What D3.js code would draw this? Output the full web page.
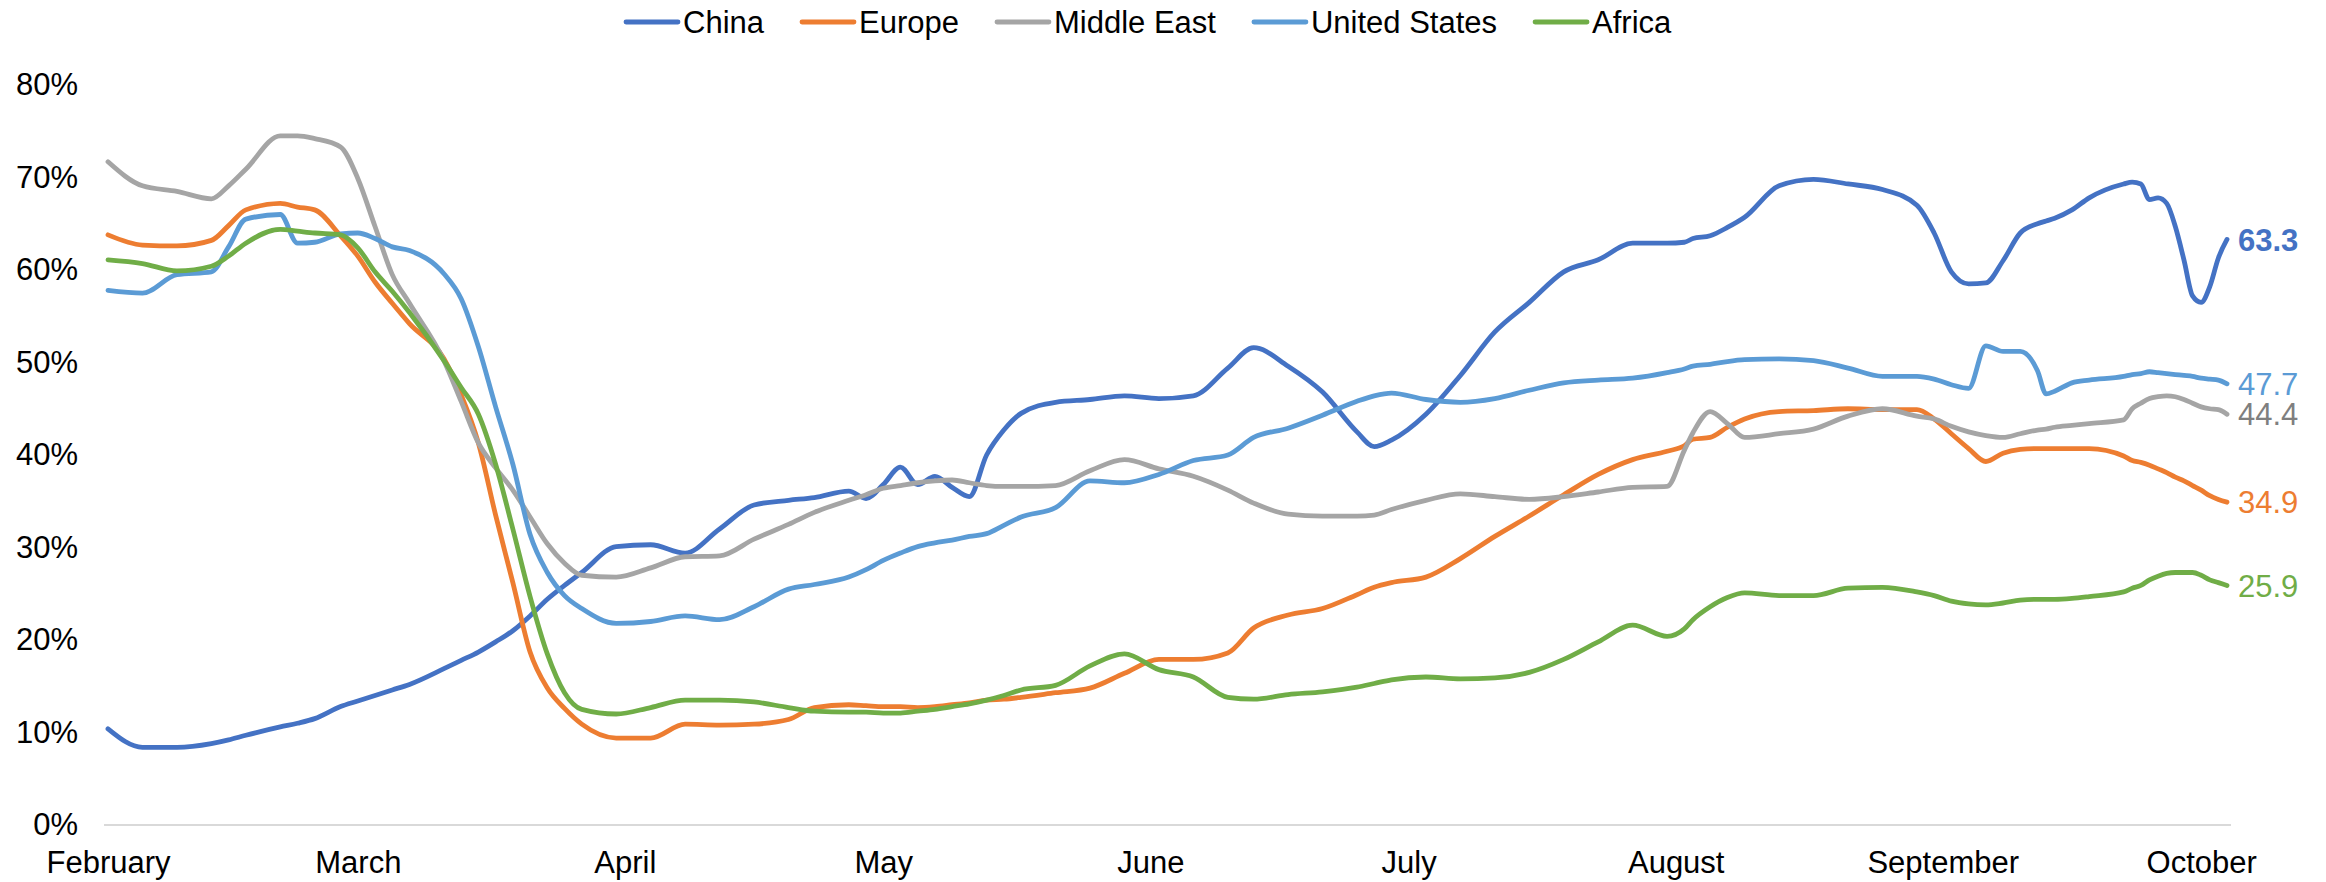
<!DOCTYPE html>
<html>
<head>
<meta charset="utf-8">
<script src="https://cdn.jsdelivr.net/npm/d3@7"></script>
<style>
  html, body { margin: 0; padding: 0; background: #fff; }
  svg text { font-family: "Liberation Sans", Arial, sans-serif; }
</style>
</head>
<body>
<div id="chart"></div>
<script>
// days counted from 1 Feb 2020
var dayOffsets = [0,4,8,12,14,16,20,22,24,27,
  29,31,33,35,39,41,43,45,47,49,
  51,53,55,59,63,67,71,75,79,82,
  86,88,90,92,94,96,98,100,102,104,
  106,110,114,118,122,126,130,133,137,141,
  145,147,149,153,157,161,165,169,173,177,
  181,183,184,186,188,190,194,198,202,206,
  210,212,214,216,218,220,222,224,225,226,
  228,230,234,235,236,237,238,239,240,241,
  242,243,244,245,246];

var china = [10.4,8.4,8.4,8.8,9.2,9.7,10.6,11.0,11.5,12.8,
  13.4,14.0,14.6,15.2,16.9,17.8,18.7,19.8,21.0,22.6,
  24.4,25.9,27.3,30.1,30.3,29.4,32.0,34.6,35.1,35.4,
  36.1,35.3,36.8,38.7,36.8,37.7,36.5,35.5,40.0,42.7,
  44.5,45.7,46.0,46.4,46.1,46.4,49.4,51.6,49.6,46.8,
  42.5,40.9,41.6,44.4,48.6,53.3,56.5,59.8,61.1,62.9,
  62.9,63.0,63.4,63.7,64.6,65.7,69.1,69.8,69.3,68.7,
  67.0,64.0,59.8,58.5,58.6,61.0,64.0,65.0,65.3,65.6,
  66.5,67.8,69.3,69.5,69.3,67.6,67.8,67.2,64.7,61.1,
  57.2,56.5,58.2,61.3,63.3];

var europe = [63.8,62.7,62.6,63.2,64.8,66.5,67.2,66.8,66.5,63.7,
  61.5,58.7,56.4,54.2,50.4,46.5,41.3,33.5,26.2,18.7,
  14.8,12.6,10.9,9.4,9.4,10.9,10.8,10.9,11.4,12.7,
  13.0,12.9,12.8,12.8,12.7,12.8,13.0,13.2,13.5,13.6,
  13.8,14.3,14.8,16.4,17.9,17.9,18.6,21.3,22.7,23.4,
  24.9,25.7,26.2,26.8,28.8,31.2,33.4,35.7,37.9,39.5,
  40.4,41.0,41.7,41.9,43.0,43.9,44.7,44.8,45.0,44.9,
  44.9,43.9,42.3,40.7,39.3,40.2,40.6,40.7,40.7,40.7,
  40.7,40.7,39.9,39.4,39.2,38.9,38.5,38.1,37.6,37.2,
  36.7,36.2,35.6,35.2,34.9];

var middleEast = [71.7,69.1,68.5,67.7,69.1,70.9,74.5,74.5,74.2,73.3,
  69.9,64.7,59.5,56.4,50.2,45.8,41.3,38.6,36.2,33.3,
  30.4,28.3,27.0,26.8,27.8,29.0,29.1,30.9,32.5,33.8,
  35.1,35.7,36.4,36.7,37.0,37.2,37.3,37.0,36.7,36.6,
  36.6,36.7,38.3,39.5,38.5,37.7,36.2,34.8,33.6,33.4,
  33.4,33.5,34.1,35.1,35.8,35.5,35.2,35.5,36.0,36.5,
  36.6,40.5,42.4,44.7,43.4,41.9,42.3,42.8,44.2,45.0,
  44.2,43.9,43.1,42.5,42.1,41.9,42.3,42.7,42.8,43.0,
  43.2,43.4,43.8,45.0,45.6,46.1,46.3,46.4,46.3,46.0,
  45.6,45.2,45.0,44.9,44.4];

var unitedStates = [57.8,57.5,59.5,59.8,62.5,65.5,66.0,62.9,63.0,63.9,
  64.0,63.4,62.5,62.1,59.6,56.9,51.7,45.2,39.0,31.4,
  27.3,24.8,23.4,21.8,22.0,22.6,22.2,23.6,25.5,26.0,
  26.8,27.6,28.6,29.4,30.1,30.5,30.8,31.2,31.5,32.4,
  33.3,34.3,37.2,37.0,37.9,39.4,40.0,41.9,42.9,44.3,
  45.8,46.4,46.7,46.0,45.7,46.1,47.0,47.8,48.1,48.3,
  48.9,49.3,49.6,49.8,50.1,50.3,50.4,50.2,49.4,48.5,
  48.5,48.2,47.6,47.2,51.8,51.2,51.2,49.1,46.6,46.9,
  47.8,48.1,48.5,48.7,48.8,49.0,48.9,48.8,48.7,48.6,
  48.5,48.3,48.2,48.1,47.7];

var africa = [61.1,60.7,59.9,60.4,61.5,62.9,64.4,64.2,64.0,63.8,
  62.4,59.8,57.7,55.4,50.2,47.3,44.4,39.0,32.0,24.7,
  18.5,14.3,12.5,12.0,12.7,13.5,13.5,13.3,12.7,12.3,
  12.2,12.2,12.1,12.1,12.3,12.5,12.8,13.1,13.5,14.0,
  14.6,15.1,17.2,18.5,16.8,16.0,13.8,13.6,14.1,14.4,
  14.9,15.3,15.7,16.0,15.8,15.9,16.5,17.9,19.8,21.6,
  20.4,21.2,22.2,23.6,24.6,25.1,24.8,24.8,25.6,25.7,
  25.2,24.8,24.2,23.9,23.8,24.0,24.3,24.4,24.4,24.4,
  24.5,24.7,25.2,25.6,25.9,26.5,26.9,27.2,27.3,27.3,
  27.3,27.0,26.5,26.2,25.9];

var seriesNames = ['China', 'Europe', 'Middle East', 'United States', 'Africa'];
var seriesValues = [china, europe, middleEast, unitedStates, africa];
var seriesColors = ['#4472C4', '#ED7D31', '#A5A5A5', '#5B9BD5', '#70AD47'];
var labelColors = ['#4472C4', '#ED7D31', '#7F7F7F', '#5B9BD5', '#70AD47'];

var monthNames = ['February', 'March', 'April', 'May', 'June', 'July', 'August', 'September', 'October'];
var yTicks = [0, 10, 20, 30, 40, 50, 60, 70, 80];

var width = 2326, height = 882;
var FONT = 31;
var STROKE = 4.8;

function toDate(offset) { return new Date(2020, 1, 1 + offset); }

var dates = dayOffsets.map(toDate);

var svg = d3.select('#chart').append('svg')
            .attr('width', width).attr('height', height);

svg.append('rect').attr('width', width).attr('height', height).attr('fill', '#fff');

var x = d3.scaleTime()
          .domain([toDate(0), toDate(246)])
          .range([108, 2227]);

var y = d3.scaleLinear()
          .domain([0, 80])
          .range([825, 85]);

// y axis: labels only, no gridlines
var yAxis = svg.append('g')
               .attr('transform', 'translate(78,0)')
               .call(d3.axisLeft(y).tickValues(yTicks).tickSize(0).tickPadding(0)
                       .tickFormat(function(d) { return d + '%'; }));
yAxis.select('.domain').remove();
yAxis.selectAll('text')
     .attr('font-size', FONT)
     .attr('fill', '#000')
     .attr('dy', '0.32em');

// x axis baseline
svg.append('line')
   .attr('x1', 104).attr('x2', 2231)
   .attr('y1', y(0)).attr('y2', y(0))
   .attr('stroke', '#D9D9D9').attr('stroke-width', 2);

var monthTicks = monthNames.map(function(m, i) { return new Date(2020, 1 + i, 1); });

var xAxis = svg.append('g')
               .attr('transform', 'translate(0,' + y(0) + ')')
               .call(d3.axisBottom(x).tickValues(monthTicks).tickSize(0).tickPadding(0)
                       .tickFormat(function(d, i) { return monthNames[i]; }));
xAxis.select('.domain').remove();
xAxis.selectAll('text')
     .attr('font-size', FONT)
     .attr('fill', '#000')
     .attr('dy', null)
     .attr('y', 48);

var line = d3.line()
             .x(function(d, i) { return x(dates[i]); })
             .y(function(d) { return y(d); })
             .curve(d3.curveMonotoneX);

svg.append('g').attr('id', 'lines')
   .selectAll('path').data(seriesValues).enter()
   .append('path')
   .attr('d', line)
   .attr('fill', 'none')
   .attr('stroke', function(d, i) { return seriesColors[i]; })
   .attr('stroke-width', STROKE)
   .attr('stroke-linejoin', 'round')
   .attr('stroke-linecap', 'round');

// end value labels
svg.append('g').attr('id', 'end-labels')
   .selectAll('text').data(seriesValues).enter()
   .append('text')
   .attr('x', function(d) { return x(dates[d.length - 1]) + 11; })
   .attr('y', function(d) { return y(d[d.length - 1]); })
   .attr('dy', '0.36em')
   .attr('font-size', FONT)
   .attr('font-weight', function(d, i) { return i === 0 ? 'bold' : 'normal'; })
   .attr('fill', function(d, i) { return labelColors[i]; })
   .text(function(d) { return d[d.length - 1].toFixed(1); });

// legend, centred across the top
var legend = svg.append('g').attr('id', 'legend');
var cursor = 0;
seriesNames.forEach(function(name, i) {
    var item = legend.append('g').attr('transform', 'translate(' + cursor + ',0)');
    item.append('line')
        .attr('x1', 2).attr('x2', 54)
        .attr('y1', 22).attr('y2', 22)
        .attr('stroke', seriesColors[i])
        .attr('stroke-width', STROKE)
        .attr('stroke-linecap', 'round');
    var t = item.append('text')
        .attr('x', 59).attr('y', 32.5)
        .attr('font-size', FONT)
        .attr('fill', '#000')
        .text(name);
    cursor += 59 + t.node().getComputedTextLength() + 36;
});
cursor -= 36;
legend.attr('transform', 'translate(' + Math.round(1148 - cursor / 2) + ',0)');
</script>
</body>
</html>
